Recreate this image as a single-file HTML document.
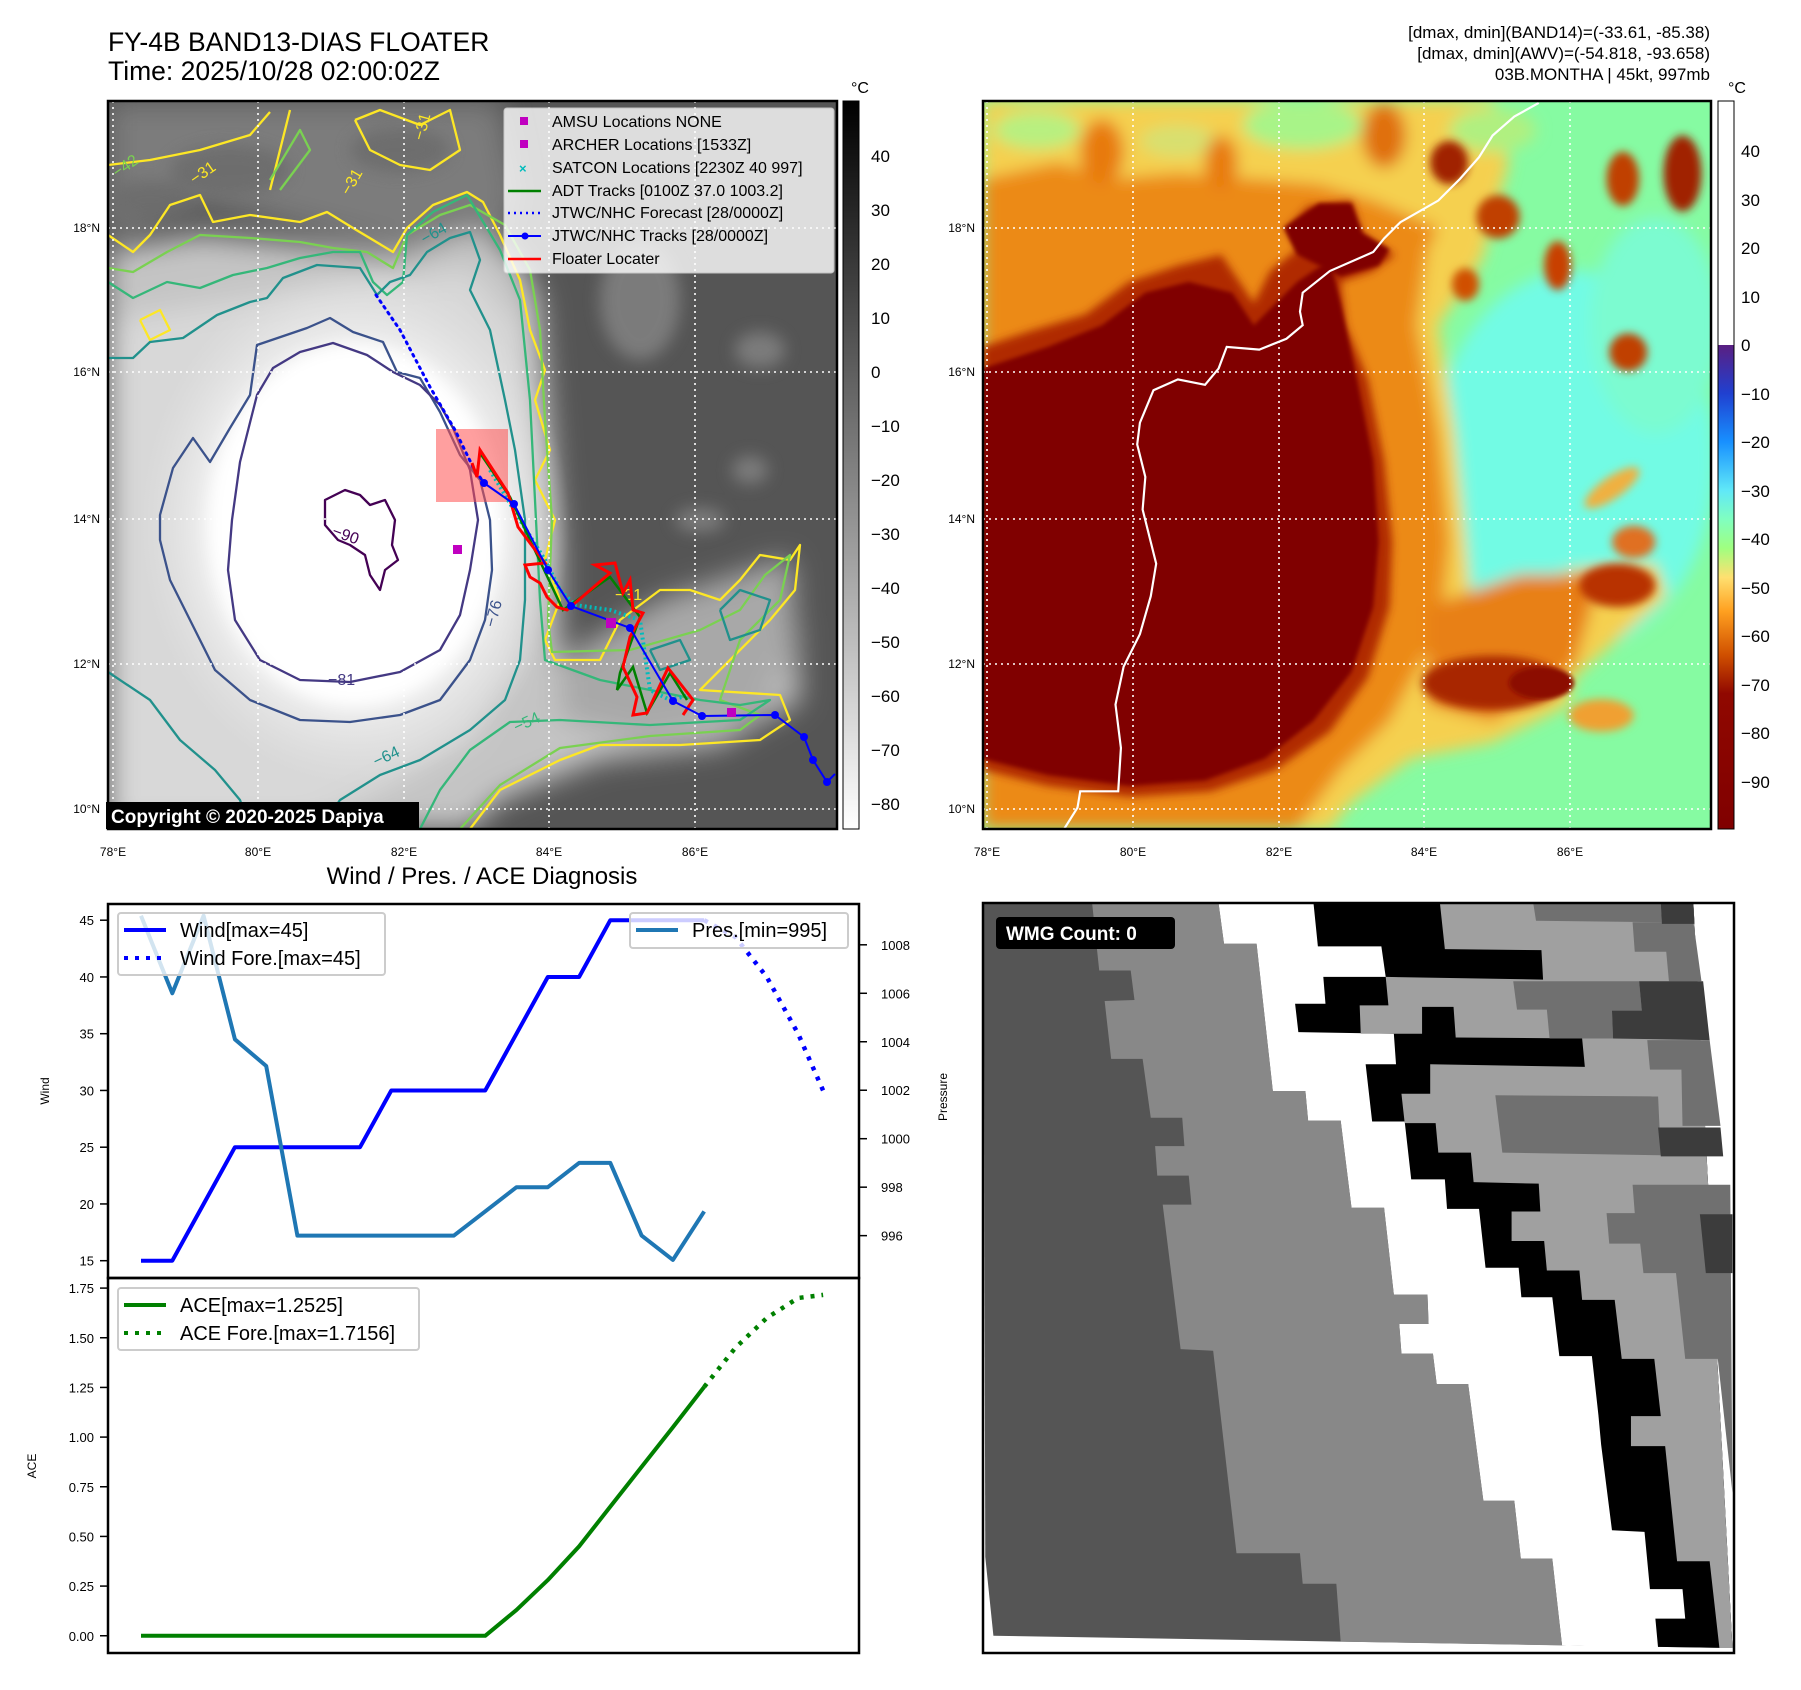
<!DOCTYPE html>
<html><head><meta charset="utf-8"><title>FY-4B BAND13 DIAS FLOATER</title>
<style>
html,body{margin:0;padding:0;background:#fff;}
svg{display:block;font-family:"Liberation Sans","DejaVu Sans",sans-serif;}
</style></head>
<body>
<svg id="root" width="1801" height="1690" viewBox="0 0 1801 1690" xmlns="http://www.w3.org/2000/svg">
<defs>
  <filter id="blur8" x="-20%" y="-20%" width="140%" height="140%"><feGaussianBlur stdDeviation="8"/></filter>
  <filter id="blur4" x="-20%" y="-20%" width="140%" height="140%"><feGaussianBlur stdDeviation="4"/></filter>
  <filter id="blur14" x="-20%" y="-20%" width="140%" height="140%"><feGaussianBlur stdDeviation="14"/></filter>
  <clipPath id="clipL"><rect x="108" y="101" width="729" height="728"/></clipPath>
  <clipPath id="clipR"><rect x="983" y="101" width="728" height="728"/></clipPath>
  <linearGradient id="cbGray" x1="0" y1="0" x2="0" y2="1">
    <stop offset="0" stop-color="#000"/><stop offset="1" stop-color="#fff"/>
  </linearGradient>
  <linearGradient id="cbJet" x1="0" y1="0" x2="0" y2="1">
    <stop offset="0" stop-color="#5a1f82"/>
    <stop offset="0.1" stop-color="#2040d0"/>
    <stop offset="0.2" stop-color="#1890ff"/>
    <stop offset="0.3" stop-color="#60e8f8"/>
    <stop offset="0.36" stop-color="#80ffc0"/>
    <stop offset="0.42" stop-color="#a0ff80"/>
    <stop offset="0.48" stop-color="#ffe070"/>
    <stop offset="0.55" stop-color="#ffa020"/>
    <stop offset="0.64" stop-color="#d05000"/>
    <stop offset="0.72" stop-color="#900800"/>
    <stop offset="1" stop-color="#800000"/>
  </linearGradient>
  <radialGradient id="coreG" cx="0.5" cy="0.5" r="0.5">
    <stop offset="0" stop-color="#ffffff"/><stop offset="0.6" stop-color="#fbfbfb"/><stop offset="1" stop-color="#e6e6e6" stop-opacity="0"/>
  </radialGradient>
</defs>

<!-- ===== TITLES ===== -->
<text x="108" y="51" font-size="26.5" fill="#000">FY-4B BAND13-DIAS FLOATER</text>
<text x="108" y="80" font-size="26.5" fill="#000">Time: 2025/10/28 02:00:02Z</text>
<g font-size="17" text-anchor="end" fill="#000">
  <text x="1710" y="38">[dmax, dmin](BAND14)=(-33.61, -85.38)</text>
  <text x="1710" y="59">[dmax, dmin](AWV)=(-54.818, -93.658)</text>
  <text x="1710" y="80">03B.MONTHA | 45kt, 997mb</text>
</g>

<!-- ===== LEFT MAP ===== -->
<g>
<g clip-path="url(#clipL)">
  <rect x="108" y="101" width="729" height="728" fill="#555"/>
  <g filter="url(#blur14)">
    <polygon points="108,101 500,101 520,200 500,235 400,250 300,225 200,200 108,235" fill="#7c7c7c"/>
    <polygon points="108,250 200,235 300,245 400,255 480,230 520,260 540,300 550,420 560,540 560,660 600,650 700,600 790,560 800,700 720,745 600,760 500,800 470,829 108,829" fill="#c4c4c4"/>
    <polygon points="560,660 660,600 780,560 800,640 760,720 640,740 560,720" fill="#a8a8a8"/>
    <polygon points="108,320 300,290 470,270 520,330 530,500 520,660 470,740 380,790 300,829 108,829" fill="#d8d8d8"/>
  </g>
  <ellipse cx="355" cy="525" rx="215" ry="260" fill="url(#coreG)"/>
  <ellipse cx="355" cy="525" rx="145" ry="180" fill="#ffffff" filter="url(#blur8)"/>
  <g filter="url(#blur8)" fill="#6a6a6a" opacity="0.8">
    <ellipse cx="230" cy="170" rx="60" ry="25"/><ellipse cx="400" cy="150" rx="50" ry="22"/><ellipse cx="150" cy="200" rx="40" ry="20"/>
  </g>
  <g filter="url(#blur8)" fill="#8c8c8c" opacity="0.7">
    <ellipse cx="760" cy="350" rx="25" ry="18"/><ellipse cx="750" cy="470" rx="18" ry="14"/><ellipse cx="700" cy="520" rx="25" ry="12"/><ellipse cx="640" cy="300" rx="40" ry="60"/>
  </g>
  <g fill="none" stroke-width="2.3" stroke-linejoin="round">
    <polyline stroke="#fde725" points="108,235 133,252 150,235 170,205 200,195 213,222 250,215 300,222 327,212 353,228 393,252 407,228 433,205 467,192 483,202 500,235 520,280 530,330 545,370 535,400 550,450 535,480 555,520 545,560 560,600 545,640 555,660 600,660 620,620 660,590 690,590 720,600 740,580 760,555 790,560 800,545 795,590 770,620 730,660 700,690 780,695 790,720 760,740 680,745 600,745 560,760 500,790 470,829"/>
    <polyline stroke="#fde725" points="108,165 150,160 200,150 250,135 270,112"/>
    <polyline stroke="#fde725" points="290,110 280,150 270,190"/>
    <polyline stroke="#fde725" points="355,120 380,110 420,125 450,110 460,150 430,170 400,165 370,150 355,120"/>
    <polyline stroke="#fde725" points="140,320 160,310 170,330 150,340 140,320"/>
    <polyline stroke="#7ad151" points="108,268 133,272 167,252 200,235 250,238 300,242 333,248 367,252 393,268 407,235 440,215 470,205 505,225 530,270 540,330 545,420 552,520 548,620 552,652 630,650 700,630 740,610 765,575 790,555 780,600 740,640 720,700 760,715 740,730 650,736 560,748 500,785 460,829"/>
    <polyline stroke="#7ad151" points="270,180 300,130 310,150 280,190"/>
    <polyline stroke="#35b779" points="108,282 133,298 167,282 200,288 233,275 267,268 300,258 333,252 360,252 373,282 387,295 403,282 407,235 433,212 467,195 500,250 520,300 530,400 535,500 540,600 545,660 600,680 650,690 700,700 740,705 770,700 740,720 650,725 560,720 510,722 470,750 440,790 420,829"/>
    <polyline stroke="#21918c" points="108,358 133,358 150,342 183,338 217,315 250,302 267,298 283,278 317,265 360,268 377,295 390,282 410,275 427,252 450,238 470,232 480,260 470,290 490,330 505,400 515,450 525,520 525,600 520,660 505,700 470,730 420,760 380,775 340,800 320,829"/>
    <polyline stroke="#21918c" points="108,672 150,700 180,740 215,770 240,800 250,829"/>
    <polyline stroke="#21918c" points="720,610 740,590 770,600 760,630 730,640 720,610"/>
    <polyline stroke="#21918c" points="650,650 680,640 690,660 660,670 650,650"/>
    <polygon stroke="#3b528b" points="307,328 330,318 353,332 383,342 397,372 420,378 440,412 460,455 480,480 490,520 492,570 485,620 470,660 440,700 400,715 350,722 300,720 250,700 215,670 190,620 170,580 160,540 160,515 173,468 193,438 210,462 230,428 250,395 257,345"/>
    <polygon stroke="#443983" points="300,352 333,343 367,355 393,372 420,385 440,405 453,428 470,470 478,520 470,570 460,615 440,650 400,672 350,682 300,680 260,660 235,620 228,570 232,520 240,462 257,395 273,368"/>
    <polygon stroke="#440154" points="325,500 345,490 360,495 370,505 385,500 395,520 392,545 398,560 385,570 380,590 370,575 365,555 350,545 338,540 325,525"/>
  </g>
  <g font-size="16">
    <text x="332" y="540" fill="#440154" transform="rotate(20 345 535)">−90</text>
    <text x="328" y="685" fill="#443983">−81</text>
    <text x="485" y="625" fill="#3b528b" transform="rotate(-75 492 620)">−76</text>
    <text x="372" y="762" fill="#21918c" transform="rotate(-25 385 755)">−64</text>
    <text x="512" y="728" fill="#35b779" transform="rotate(-25 525 720)">−54</text>
    <text x="615" y="600" fill="#fde725">−31</text>
    <text x="340" y="190" fill="#fde725" transform="rotate(-60 350 185)">−31</text>
    <text x="190" y="180" fill="#fde725" transform="rotate(-35 200 175)">−31</text>
    <text x="415" y="140" fill="#fde725" transform="rotate(-75 420 135)">−31</text>
    <text x="113" y="175" fill="#7ad151" transform="rotate(-35 120 170)">−42</text>
    <text x="418" y="240" fill="#21918c" transform="rotate(-30 430 230)">−64</text>
  </g>
  <g stroke="#fff" stroke-width="1.6" stroke-dasharray="2,4">
    <line x1="113" y1="101" x2="113" y2="829"/><line x1="258" y1="101" x2="258" y2="829"/><line x1="404" y1="101" x2="404" y2="829"/><line x1="549" y1="101" x2="549" y2="829"/><line x1="695" y1="101" x2="695" y2="829"/>
    <line x1="108" y1="228" x2="837" y2="228"/><line x1="108" y1="372" x2="837" y2="372"/><line x1="108" y1="519" x2="837" y2="519"/><line x1="108" y1="664" x2="837" y2="664"/><line x1="108" y1="809" x2="837" y2="809"/>
  </g>
  <rect x="436" y="429" width="72" height="73" fill="#ff5050" opacity="0.55"/>
  <polyline fill="none" stroke="#0000ff" stroke-width="3" stroke-dasharray="2,5" stroke-linecap="round" points="376,295 400,330 430,387 455,430 473,467 484,483"/>
  <polyline fill="none" stroke="#00bcbc" stroke-width="4" stroke-dasharray="2,3" points="490,470 520,520 545,560 560,590 575,605 610,610 640,620 650,690 670,700 690,695"/>
  <polyline fill="none" stroke="#008000" stroke-width="2.5" points="477,473 480,453 510,497 530,540 563,610 610,577 640,617 620,673 617,690 633,667 647,713 670,673 687,700"/>
  <polyline fill="none" stroke="#ff0000" stroke-width="3" points="472,463 477,477 480,450 508,493 518,527 545,563 525,565 530,577 540,583 547,597 557,607 567,610 610,573 595,565 615,563 623,593 630,580 633,610 643,613 630,637 623,667 637,697 633,715 647,713 668,668 693,700 683,715"/>
  <g>
    <polyline fill="none" stroke="#0000ff" stroke-width="2" points="484,483 514,504 548,570 571,606 630,628 673,701 702,716 775,715 804,737 813,760 827,782 835,774"/>
    <g fill="#0000ff"><circle cx="484" cy="483" r="4"/><circle cx="514" cy="504" r="4"/><circle cx="548" cy="570" r="4"/><circle cx="571" cy="606" r="4"/><circle cx="630" cy="628" r="4"/><circle cx="673" cy="701" r="4"/><circle cx="702" cy="716" r="4"/><circle cx="775" cy="715" r="4"/><circle cx="804" cy="737" r="4"/><circle cx="813" cy="760" r="4"/><circle cx="827" cy="782" r="4"/></g>
  </g>
  <g fill="#c000c0">
    <rect x="453" y="545" width="9" height="9"/><rect x="606" y="618" width="10" height="10"/><rect x="727" y="708" width="9" height="9"/>
  </g>
</g>
<rect x="108" y="101" width="729" height="728" fill="none" stroke="#000" stroke-width="2.5"/>
<g>
  <rect x="504" y="108" width="330" height="165" rx="3" fill="#fff" opacity="0.8" stroke="#ddd"/>
  <g font-size="16" fill="#000">
    <rect x="520" y="117" width="8" height="8" fill="#c000c0"/><text x="552" y="127">AMSU Locations NONE</text>
    <rect x="520" y="140" width="8" height="8" fill="#c000c0"/><text x="552" y="150">ARCHER Locations [1533Z]</text>
    <text x="519" y="173" fill="#00bcbc" font-size="13" font-weight="bold">×</text><text x="552" y="173">SATCON Locations [2230Z 40 997]</text>
    <line x1="508" y1="191" x2="541" y2="191" stroke="#008000" stroke-width="2.5"/><text x="552" y="196">ADT Tracks [0100Z 37.0 1003.2]</text>
    <line x1="508" y1="213" x2="541" y2="213" stroke="#0000ff" stroke-width="2.5" stroke-dasharray="2,4"/><text x="552" y="218">JTWC/NHC Forecast [28/0000Z]</text>
    <line x1="508" y1="236" x2="541" y2="236" stroke="#0000ff" stroke-width="2"/><circle cx="525" cy="236" r="3.5" fill="#0000ff"/><text x="552" y="241">JTWC/NHC Tracks [28/0000Z]</text>
    <line x1="508" y1="259" x2="541" y2="259" stroke="#ff0000" stroke-width="2.5"/><text x="552" y="264">Floater Locater</text>
  </g>
</g>
<g>
  <rect x="106" y="802" width="313" height="27" fill="#000"/>
  <text x="111" y="823" font-size="19" font-weight="bold" fill="#fff">Copyright © 2020-2025 Dapiya</text>
</g>
<g font-size="12" fill="#000" text-anchor="end">
  <text x="100" y="232">18°N</text><text x="100" y="376">16°N</text><text x="100" y="523">14°N</text><text x="100" y="668">12°N</text><text x="100" y="813">10°N</text>
</g>
<g font-size="12" fill="#000" text-anchor="middle">
  <text x="113" y="856">78°E</text><text x="258" y="856">80°E</text><text x="404" y="856">82°E</text><text x="549" y="856">84°E</text><text x="695" y="856">86°E</text>
</g>
<g>
  <rect x="843" y="101" width="16" height="728" fill="url(#cbGray)" stroke="#000" stroke-width="1"/>
  <text x="860" y="93" font-size="16" text-anchor="middle">°C</text>
  <g font-size="17" fill="#000">
    <text x="871" y="162">40</text><text x="871" y="216">30</text><text x="871" y="270">20</text><text x="871" y="324">10</text><text x="871" y="378">0</text>
    <text x="871" y="432">−10</text><text x="871" y="486">−20</text><text x="871" y="540">−30</text><text x="871" y="594">−40</text><text x="871" y="648">−50</text>
    <text x="871" y="702">−60</text><text x="871" y="756">−70</text><text x="871" y="810">−80</text>
  </g>
</g>
</g>

<!-- ===== RIGHT MAP ===== -->
<g>
<g clip-path="url(#clipR)">
  <g transform="translate(950,0) scale(0.5426,0.542)">
    <rect x="60" y="186" width="1343" height="1344" fill="#86fba2"/>
    <g filter="url(#blur14)">
      <ellipse cx="1150" cy="850" rx="260" ry="350" fill="#72fbe4"/>
      <ellipse cx="1300" cy="600" rx="120" ry="200" fill="#7cfbd0"/>
      <polygon points="60,186 1000,186 1030,300 980,480 900,600 930,800 950,1000 960,1110 1150,1050 1300,1040 1320,1100 1150,1250 1140,1300 1000,1370 850,1400 740,1480 700,1530 60,1530" fill="#f5d050"/>
      <polygon points="60,330 200,300 300,330 420,320 560,330 680,340 780,370 900,420 880,460 860,600 900,800 920,1000 910,1100 880,1200 810,1330 720,1420 640,1530 60,1530" fill="#ec8a18"/>
      <polygon points="880,1120 1050,1060 1200,1060 1150,1230 1000,1330 880,1300" fill="#e88018"/>
      <ellipse cx="160" cy="240" rx="80" ry="35" fill="#b8f080"/>
      <ellipse cx="650" cy="230" rx="110" ry="45" fill="#a8f488"/>
      <ellipse cx="420" cy="260" rx="70" ry="30" fill="#d8e070"/>
      <ellipse cx="1000" cy="240" rx="80" ry="40" fill="#b0f080"/>
      <ellipse cx="280" cy="280" rx="40" ry="60" fill="#e87a10"/>
      <ellipse cx="500" cy="300" rx="30" ry="50" fill="#e87a10"/>
      <ellipse cx="800" cy="250" rx="40" ry="60" fill="#e07010"/>
    </g>
    <g filter="url(#blur8)">
      <polygon points="60,640 150,610 250,580 330,520 420,490 500,470 540,530 560,560 590,500 640,460 620,420 660,380 740,370 760,430 820,470 780,500 720,520 730,600 770,700 800,850 815,1000 810,1120 770,1250 700,1350 600,1420 480,1460 330,1470 180,1450 60,1420" fill="#b02c00"/>
      <ellipse cx="1000" cy="1260" rx="130" ry="50" fill="#a82800"/>
      <ellipse cx="1230" cy="1080" rx="70" ry="40" fill="#b83000"/>
      <ellipse cx="1350" cy="320" rx="35" ry="70" fill="#a02000"/>
      <ellipse cx="1240" cy="330" rx="30" ry="50" fill="#c04000"/>
      <ellipse cx="920" cy="300" rx="35" ry="40" fill="#a02000"/>
      <ellipse cx="1010" cy="400" rx="40" ry="40" fill="#c04000"/>
      <ellipse cx="1120" cy="490" rx="25" ry="45" fill="#c84000"/>
      <ellipse cx="1250" cy="650" rx="35" ry="35" fill="#c04000"/>
      <ellipse cx="950" cy="525" rx="25" ry="30" fill="#d05000"/>
      <ellipse cx="1220" cy="900" rx="60" ry="20" fill="#f0b040" transform="rotate(-35 1220 900)"/>
      <ellipse cx="1260" cy="1000" rx="40" ry="30" fill="#e07020"/>
      <ellipse cx="1200" cy="1320" rx="60" ry="30" fill="#f0a030"/>
    </g>
    <polygon filter="url(#blur4)" points="60,680 180,640 280,600 360,540 440,520 520,540 560,600 640,520 700,480 720,560 750,700 780,850 790,1000 780,1120 740,1240 670,1330 580,1400 470,1440 330,1450 180,1430 60,1400" fill="#800000"/>
    <polygon filter="url(#blur4)" points="615,420 680,375 740,375 760,430 810,460 790,490 720,510 640,470" fill="#800000"/>
    <ellipse cx="1090" cy="1260" rx="60" ry="30" fill="#8c0a00" filter="url(#blur4)"/>
    <polyline fill="none" stroke="#fff" stroke-width="4" points="1085,190 1040,215 1000,250 975,290 940,330 900,370 830,410 800,440 780,465 700,500 650,540 645,575 650,600 620,625 570,645 510,640 495,680 470,710 420,700 375,720 350,780 345,820 360,880 355,940 370,1000 380,1040 370,1100 350,1170 320,1230 305,1300 315,1380 310,1460 240,1460 235,1490 210,1530"/>
  </g>
  <g stroke="#fff" stroke-width="1.6" stroke-dasharray="2,4">
    <line x1="987" y1="101" x2="987" y2="829"/><line x1="1133" y1="101" x2="1133" y2="829"/><line x1="1279" y1="101" x2="1279" y2="829"/><line x1="1424" y1="101" x2="1424" y2="829"/><line x1="1570" y1="101" x2="1570" y2="829"/>
    <line x1="983" y1="228" x2="1711" y2="228"/><line x1="983" y1="372" x2="1711" y2="372"/><line x1="983" y1="519" x2="1711" y2="519"/><line x1="983" y1="664" x2="1711" y2="664"/><line x1="983" y1="809" x2="1711" y2="809"/>
  </g>
</g>
<rect x="983" y="101" width="728" height="728" fill="none" stroke="#000" stroke-width="2.5"/>
<g font-size="12" fill="#000" text-anchor="end">
  <text x="975" y="232">18°N</text><text x="975" y="376">16°N</text><text x="975" y="523">14°N</text><text x="975" y="668">12°N</text><text x="975" y="813">10°N</text>
</g>
<g font-size="12" fill="#000" text-anchor="middle">
  <text x="987" y="856">78°E</text><text x="1133" y="856">80°E</text><text x="1279" y="856">82°E</text><text x="1424" y="856">84°E</text><text x="1570" y="856">86°E</text>
</g>
<g>
  <rect x="1718" y="101" width="16" height="244" fill="#fff"/>
  <rect x="1718" y="345" width="16" height="484" fill="url(#cbJet)"/>
  <rect x="1718" y="101" width="16" height="728" fill="none" stroke="#000" stroke-width="1"/>
  <text x="1737" y="93" font-size="16" text-anchor="middle">°C</text>
  <g font-size="17" fill="#000">
    <text x="1741" y="157">40</text><text x="1741" y="206">30</text><text x="1741" y="254">20</text><text x="1741" y="303">10</text><text x="1741" y="351">0</text>
    <text x="1741" y="400">−10</text><text x="1741" y="448">−20</text><text x="1741" y="497">−30</text><text x="1741" y="545">−40</text><text x="1741" y="594">−50</text>
    <text x="1741" y="642">−60</text><text x="1741" y="691">−70</text><text x="1741" y="739">−80</text><text x="1741" y="788">−90</text>
  </g>
</g>
</g>

<!-- ===== WMG PANEL ===== -->
<g>
  <rect x="983" y="903" width="751" height="750" fill="#fff"/>
  <g transform="translate(950,850) scale(0.5426,0.5356)">
    <polygon fill="#555" points="62,100 1370,100 1442,1490 720,1478 80,1467 65,1320"/>
    <polygon fill="#888" points="262,100 495,100 505,175 565,175 595,450 655,450 660,505 720,505 740,668 800,668 818,830 880,830 882,885 828,885 832,940 890,940 897,997 955,997 983,1215 1040,1215 1052,1323 1110,1323 1128,1485 720,1478 712,1370 650,1370 645,1313 528,1313 485,935 425,932 392,662 445,662 440,608 382,608 378,553 432,553 428,500 370,500 355,390 297,390 285,282 340,280 333,225 275,225"/>
    <polygon fill="#000" points="495,100 1370,100 1442,1490 1128,1485 1110,1323 1052,1323 1040,1215 983,1215 955,997 897,997 890,940 832,940 828,885 882,885 880,830 818,830 800,668 740,668 720,505 660,505 655,450 595,450 565,175 505,175"/>
    <polygon fill="#fff" points="495,100 670,100 678,180 795,180 803,237 688,237 692,287 636,287 642,340 818,343 822,400 766,400 778,507 838,507 850,615 912,615 916,670 975,670 987,780 1048,780 1053,835 1110,835 1123,945 1183,945 1195,1055 1200,1110 1220,1270 1280,1273 1290,1380 1350,1380 1355,1435 1300,1435 1305,1490 1128,1485 1110,1323 1052,1323 1040,1215 983,1215 955,997 897,997 890,940 832,940 828,885 882,885 880,830 818,830 800,668 740,668 720,505 660,505 655,450 595,450 565,175 505,175"/>
    <polygon fill="#a0a0a0" points="903,100 1370,100 1442,1490 1418,1490 1400,1328 1340,1328 1318,1113 1255,1113 1255,1057 1310,1057 1298,950 1238,950 1225,840 1165,840 1160,785 1100,785 1095,730 1035,730 1035,675 1088,675 1085,623 965,620 960,565 900,565 895,510 838,510 832,455 885,455 885,400 1170,405 1165,352 932,350 928,293 870,293 870,343 757,343 755,290 808,290 803,237 1093,242 1090,187 912,185"/>
    <g fill="#707070">
      <polygon points="1075,100 1310,100 1312,135 1080,132"/>
      <polygon points="1258,135 1370,135 1385,245 1325,245 1320,190 1262,190"/>
      <polygon points="1038,245 1270,245 1275,300 1220,300 1222,352 1105,352 1100,298 1045,298"/>
      <polygon points="1285,355 1400,355 1420,515 1350,515 1348,410 1290,410"/>
      <polygon points="1005,458 1305,460 1310,570 1018,565"/>
      <polygon points="1258,625 1438,625 1442,1200 1415,950 1355,950 1338,790 1278,790 1272,735 1215,735 1210,678 1262,678"/>
    </g>
    <g fill="#3c3c3c">
      <polygon points="1310,100 1370,100 1372,138 1312,138"/>
      <polygon points="1270,245 1388,245 1400,355 1222,352 1220,300 1275,300"/>
      <polygon points="1305,518 1420,518 1425,572 1310,572"/>
      <polygon points="1382,680 1442,680 1442,790 1393,790"/>
    </g>
  </g>
  <rect x="983" y="903" width="751" height="750" fill="none" stroke="#000" stroke-width="2.5"/>
  <g>
    <rect x="996" y="917" width="179" height="32" rx="4" fill="#000"/>
    <text x="1006" y="940" font-size="19" font-weight="bold" fill="#fff">WMG Count: 0</text>
  </g>
</g>

<!-- ===== DIAGNOSIS CHART ===== -->
<text x="482" y="884" font-size="24" text-anchor="middle">Wind / Pres. / ACE Diagnosis</text>
<g id="chart"></g>
</svg>

<script>
// ---- data ----
const histIdx = [0,1,2,3,4,5,6,7,8,9,10,11,12,13,14,15,16,17,18];
const windHist = [15,15,20,25,25,25,25,25,30,30,30,30,35,40,40,45,45,45,45];
const presHist = [1009.2,1006,1009.2,1004.1,1003,996,996,996,996,996,996,997,998,998,999,999,996,995,997];
const aceHist = [0,0,0,0,0,0,0,0,0,0,0,0,0.13,0.28,0.45,0.65,0.85,1.05,1.2525];
const fcIdx = [18,19,20,21,21.8];
const windFc = [45,43.5,40,35,30];
const aceFc = [1.2525,1.45,1.6,1.7,1.7156];
const windTicks = [15,20,25,30,35,40,45];
const presTicks = [996,998,1000,1002,1004,1006,1008];
const aceTicks = [0,0.25,0.5,0.75,1.0,1.25,1.5,1.75];
const aceTickLabels = ["0.00","0.25","0.50","0.75","1.00","1.25","1.50","1.75"];

// ---- axes ----
const AX = {l:108, r:859, t1:904, b1:1278, t2:1278, b2:1653};
const xS = i => 141 + i*31.29;
const yW = v => 920.2 + (45 - v)*11.35;
const yP = p => 850 + (177 + (1008 - p)*45.25)/1.867;
const yA = a => 850 + (1467 - a*370.9)/1.867;

const NS = 'http://www.w3.org/2000/svg';
const chart = document.getElementById('chart');
function mk(tag, attrs, parent){
  const e = document.createElementNS(NS, tag);
  for (const k in attrs) e.setAttribute(k, attrs[k]);
  (parent||chart).appendChild(e);
  return e;
}
function pts(xs, ys, fy){ return xs.map((x,i)=>xS(x).toFixed(1)+','+fy(ys[i]).toFixed(1)).join(' '); }

const f1 = mk('rect',{x:AX.l,y:AX.t1,width:AX.r-AX.l,height:AX.b1-AX.t1,fill:'none',stroke:'#000','stroke-width':2.5});


const f2 = mk('rect',{x:AX.l,y:AX.t2,width:AX.r-AX.l,height:AX.b2-AX.t2,fill:'none',stroke:'#000','stroke-width':2.5});



windTicks.forEach(v=>{
  const y=yW(v);
  mk('line',{x1:AX.l-8,y1:y,x2:AX.l,y2:y,stroke:'#000','stroke-width':1.5});
  const t=mk('text',{x:AX.l-14,y:y+5,'font-size':13,'text-anchor':'end'}); t.textContent=v;
  
  
});
presTicks.forEach(v=>{
  const y=yP(v);
  mk('line',{x1:AX.r,y1:y,x2:AX.r+8,y2:y,stroke:'#000','stroke-width':1.5});
  const t=mk('text',{x:AX.r+22,y:y+5,'font-size':13}); t.textContent=v;
  
  
});
aceTicks.forEach((v,i)=>{
  const y=yA(v);
  mk('line',{x1:AX.l-8,y1:y,x2:AX.l,y2:y,stroke:'#000','stroke-width':1.5});
  const t=mk('text',{x:AX.l-14,y:y+5,'font-size':13,'text-anchor':'end'}); t.textContent=aceTickLabels[i];
  
  
});
const wl=mk('text',{x:0,y:0,'font-size':12,'text-anchor':'middle',transform:'translate(49,1091) rotate(-90)'}); wl.textContent='Wind';


const al=mk('text',{x:0,y:0,'font-size':12,'text-anchor':'middle',transform:'translate(36,1466) rotate(-90)'}); al.textContent='ACE';


const pl=mk('text',{x:0,y:0,'font-size':12,'text-anchor':'middle',transform:'translate(947,1097) rotate(-90)'}); pl.textContent='Pressure';



const wLine=mk('polyline',{points:pts(histIdx,windHist,yW),fill:'none',stroke:'#0000ff','stroke-width':4,'stroke-linejoin':'round'});


const wFc=mk('polyline',{points:pts(fcIdx,windFc,yW),fill:'none',stroke:'#0000ff','stroke-width':4.5,'stroke-dasharray':'4,7'});


const pLine=mk('polyline',{points:pts(histIdx,presHist,yP),fill:'none',stroke:'#1f77b4','stroke-width':4,'stroke-linejoin':'round'});


const aLine=mk('polyline',{points:pts(histIdx,aceHist,yA),fill:'none',stroke:'#008000','stroke-width':4,'stroke-linejoin':'round'});


const aFc=mk('polyline',{points:pts(fcIdx,aceFc,yA),fill:'none',stroke:'#008000','stroke-width':4.5,'stroke-dasharray':'4,7'});



function legend(x,y,w,h,items,name){
  const g=mk('g',{});
  
  
  mk('rect',{x:x,y:y,width:w,height:h,rx:3,fill:'#fff','fill-opacity':0.8,stroke:'#ccc','stroke-width':2},g);
  items.forEach((it,i)=>{
    const cy=y+17+i*28;
    mk('line',{x1:x+6,y1:cy,x2:x+48,y2:cy,stroke:it.c,'stroke-width':4,'stroke-dasharray':it.d||'none'},g);
    const t=mk('text',{x:x+62,y:cy+7,'font-size':20},g); t.textContent=it.t;
  });
}
legend(118,913,267,62,[{c:'#0000ff',t:'Wind[max=45]'},{c:'#0000ff',d:'4,7',t:'Wind Fore.[max=45]'}],'wind-legend');
legend(630,913,218,35,[{c:'#1f77b4',t:'Pres.[min=995]'}],'pressure-legend');
legend(118,1288,301,62,[{c:'#008000',t:'ACE[max=1.2525]'},{c:'#008000',d:'4,7',t:'ACE Fore.[max=1.7156]'}],'ace-legend');
</script>
</body></html>
